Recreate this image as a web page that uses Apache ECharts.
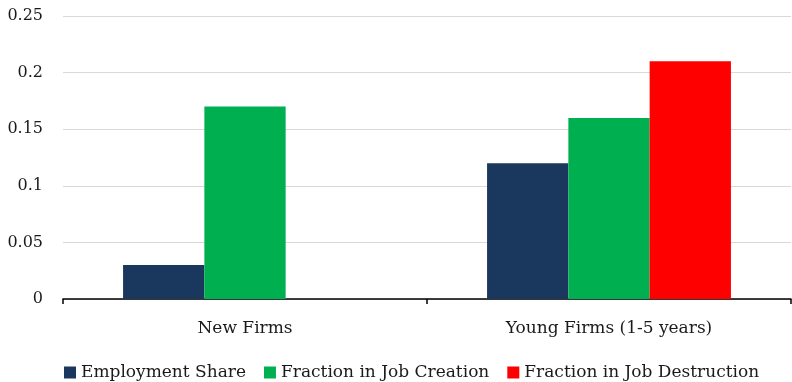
<!DOCTYPE html>
<html>
<head>
<meta charset="utf-8">
<script src="https://cdn.jsdelivr.net/npm/echarts@6/dist/echarts.min.js"></script>
<style>html,body{margin:0;padding:0;background:#fff}#c{width:792px;height:382px}</style>
</head>
<body>
<div id="c"></div>
<script>
const categories = ['New Firms', 'Young Firms (1-5 years)'];
const employmentShare = [0.03, 0.12];
const jobCreation = [0.17, 0.16];
const jobDestruction = [null, 0.21];
const yTicks = [0, 0.05, 0.1, 0.15, 0.2, 0.25];

const FONT = 'DejaVu Serif';
const chart = echarts.init(document.getElementById('c'));
chart.setOption({
  animation: false,
  textStyle: { fontFamily: FONT },
  grid: { left: 63, right: 1, top: 16, bottom: 83 },
  legend: {
    left: 59, top: 359,
    itemWidth: 12, itemHeight: 12, itemGap: 18,
    icon: 'rect',
    textStyle: { fontFamily: FONT, fontSize: 17, color: '#1a1a1a' },
    data: ['Employment Share', 'Fraction in Job Creation', 'Fraction in Job Destruction']
  },
  xAxis: {
    type: 'category',
    data: categories,
    axisLine: { lineStyle: { color: '#000', width: 1.5 } },
    axisTick: { show: true, length: 5, lineStyle: { color: '#000', width: 1.5 } },
    axisLabel: { fontFamily: FONT, fontSize: 17, color: '#1a1a1a', margin: 21 }
  },
  yAxis: {
    type: 'value',
    min: yTicks[0], max: yTicks[yTicks.length - 1], interval: 0.05,
    axisLine: { show: false },
    axisTick: { show: false },
    splitLine: { lineStyle: { color: '#d9d9d9', width: 1 } },
    axisLabel: { fontFamily: FONT, fontSize: 16, color: '#1a1a1a', margin: 20 }
  },
  series: [
    { name: 'Employment Share', type: 'bar', data: employmentShare, barGap: '0%', barCategoryGap: '33%', itemStyle: { color: '#1a375e' } },
    { name: 'Fraction in Job Creation', type: 'bar', data: jobCreation, itemStyle: { color: '#00b050' } },
    { name: 'Fraction in Job Destruction', type: 'bar', data: jobDestruction, itemStyle: { color: '#ff0000' } }
  ]
});
</script>
</body>
</html>
